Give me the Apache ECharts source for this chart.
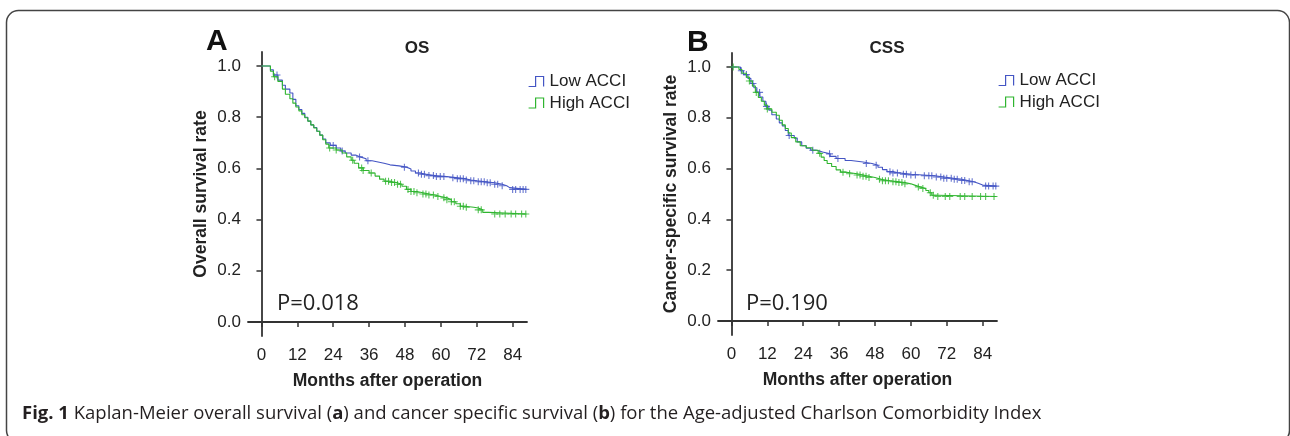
<!DOCTYPE html>
<html>
<head>
<meta charset="utf-8">
<script src="https://cdn.jsdelivr.net/npm/echarts@6/dist/echarts.min.js"></script>
<style>
  html, body { margin: 0; padding: 0; background: #fff; }
  #chart { width: 1290px; height: 436px; }
</style>
</head>
<body>
<div id="chart"></div>
<script>
// axis ticks
var monthTicks = [0, 12, 24, 36, 48, 60, 72, 84];
var rateTicks = [0, 0.2, 0.4, 0.6, 0.8, 1.0];

// Kaplan-Meier steps: [month, survival after the drop]
var osLow = [[0,1.0],[3,0.985],[4,0.965],[5.5,0.945],[7,0.925],[8,0.91],[9.5,0.895],[10.5,0.87],[11.5,0.845],
  [12.5,0.83],[13.5,0.815],[14.5,0.8],[15.5,0.785],[16.5,0.77],[17.5,0.76],[18.5,0.745],[19.5,0.73],[20.5,0.715],
  [21.5,0.7],[23,0.69],[25,0.68],[26.5,0.668],[28,0.66],[30,0.652],[31.5,0.645],[33,0.638],[35,0.63],[37,0.625],
  [39,0.62],[41,0.614],[43,0.61],[46,0.605],[48.5,0.598],[50,0.59],[51.5,0.582],[53,0.577],[55,0.572],[58,0.568],
  [62,0.564],[65,0.56],[68,0.555],[70,0.552],[72,0.548],[75,0.544],[78,0.538],[80.5,0.532],[82,0.525],[83,0.518],[88.6,0.518]];
var osHigh = [[0,1.0],[3,0.98],[4,0.958],[5.5,0.94],[7,0.91],[8,0.89],[9.5,0.872],[10.5,0.855],[11.5,0.84],
  [12.5,0.825],[13.5,0.81],[14.5,0.798],[15.5,0.785],[16.5,0.77],[17.5,0.758],[18.5,0.745],[19.5,0.73],[20.5,0.712],
  [21.5,0.695],[22.5,0.68],[25,0.672],[27,0.66],[28.5,0.645],[30,0.632],[31,0.62],[32.5,0.602],[34,0.592],[36,0.582],
  [38,0.57],[39.5,0.558],[41,0.55],[43,0.545],[45,0.538],[47,0.53],[48.5,0.518],[50,0.51],[52,0.505],[54,0.5],
  [56,0.496],[58,0.49],[60,0.485],[62,0.478],[63.5,0.47],[65,0.462],[66.5,0.452],[68,0.448],[71,0.445],[72.5,0.438],
  [74,0.428],[76,0.422],[88.6,0.422]];
var cssLow = [[0,1.0],[3,0.985],[4,0.97],[5.5,0.955],[6.5,0.935],[7.5,0.918],[8.5,0.9],[9.5,0.882],[10.5,0.865],
  [11.5,0.845],[12.5,0.83],[13.5,0.812],[15,0.795],[16,0.78],[17,0.768],[18,0.75],[19,0.73],[21,0.72],[22,0.705],
  [23.5,0.69],[25,0.68],[26.5,0.672],[28.5,0.665],[30.5,0.658],[33,0.648],[35,0.64],[38,0.632],[40,0.626],[44,0.62],
  [47,0.613],[49,0.605],[50.5,0.596],[52,0.588],[54,0.583],[56,0.578],[60,0.575],[64,0.572],[68,0.567],[71,0.562],
  [74,0.558],[77,0.553],[79,0.548],[81,0.542],[82.5,0.535],[84,0.531],[88.6,0.531]];
var cssHigh = [[0,1.0],[2.5,0.99],[3.5,0.975],[5,0.96],[6,0.945],[7,0.925],[8,0.9],[9,0.88],[10,0.865],[11,0.85],
  [12,0.835],[13.5,0.822],[15,0.81],[16,0.79],[17,0.772],[18,0.758],[19,0.74],[20,0.722],[21.5,0.705],[23,0.69],
  [25,0.682],[27,0.672],[29,0.66],[30,0.645],[31,0.632],[32,0.62],[33.5,0.608],[35,0.595],[36.5,0.586],[38,0.58],
  [42,0.575],[44,0.57],[46,0.565],[48,0.558],[50,0.552],[53,0.548],[56,0.545],[58,0.54],[60,0.534],[61.5,0.528],
  [63,0.522],[65,0.514],[66,0.505],[67,0.495],[69,0.49],[88.6,0.49]];

// censored observations (months)
var osLowCensor = [5.2, 24, 27, 32.8, 35.6, 47.8, 52.5, 53.5, 54.5, 56, 57.5, 58.5, 59.8, 61, 64, 65.5, 66.5, 67.5, 68.5,
  70, 71, 72.5, 73.5, 74.5, 75.5, 76.5, 78, 79, 80.5, 84, 85, 86.5, 87.5, 88.4];
var osHighCensor = [4.4, 22.8, 25, 30.5, 33.5, 34, 36.7, 41.5, 42.5, 43.5, 44.5, 45.5, 46.5, 49, 50, 51, 52, 54, 55, 56,
  57.5, 59, 61, 62, 63.5, 64.5, 66.5, 67.5, 68.5, 72.5, 73.5, 78, 79.7, 81.5, 83.5, 85, 87, 88.4];
var cssLowCensor = [3.3, 5, 7.2, 9.4, 11.7, 19.3, 27.2, 32.8, 35.6, 45.1, 48.4, 53, 54, 55.5, 57.5, 58.5, 60, 61.5, 64.5,
  66, 67, 68.5, 70, 71, 72, 73.5, 74.5, 75.5, 77, 78, 79.5, 80.5, 85, 86, 87.5, 88.4];
var cssHighCensor = [0.6, 6, 8.3, 12, 29.5, 37.3, 39.5, 42, 43, 44, 45, 46, 49.5, 50.5, 51.5, 52.5, 54, 55, 56, 57, 58,
  62.5, 64, 66.5, 67.5, 69, 71.5, 73, 76.5, 78, 80.5, 83.3, 85, 87.8];

var groupNames = ['Low ACCI', 'High ACCI'];
var lowColor = '#4455c4';
var highColor = '#2fb52f';

function survAt(curve, t) {
  var s = curve[0][1];
  for (var i = 0; i < curve.length; i++) {
    if (curve[i][0] <= t) s = curve[i][1]; else break;
  }
  return s;
}
function marks(curve, times) {
  return times.map(function (t) { return [t, survAt(curve, t)]; });
}

var plusIcon = 'path://M0,5L10,5M5,0L5,10';
var stepIcon = 'path://M0,10L7,10L7,0L15,0L15,10';
var font = "'Liberation Sans', Arial, sans-serif";

function kmLine(name, data, color, idx) {
  return {
    name: name, type: 'line', step: 'end', data: data, showSymbol: false,
    xAxisIndex: idx, yAxisIndex: idx, color: color,
    lineStyle: { width: 1.1, color: color }, animation: false
  };
}
function censorMarks(name, data, color, idx) {
  return {
    name: name, type: 'scatter', data: data, symbol: plusIcon, symbolSize: 7,
    xAxisIndex: idx, yAxisIndex: idx, silent: true,
    itemStyle: { color: 'transparent', borderColor: color, borderWidth: 1.1 }, animation: false
  };
}
function xAx(idx) {
  return {
    type: 'value', gridIndex: idx, min: -4.5, max: 88.8,
    name: 'Months after operation', nameLocation: 'middle', nameGap: 36,
    nameTextStyle: { fontFamily: font, fontWeight: 'bold', fontSize: 17.5, color: '#222' },
    axisLine: { lineStyle: { color: '#333', width: 1.8 } },
    axisTick: { customValues: monthTicks, length: 5, lineStyle: { color: '#333', width: 1.5 } },
    axisLabel: { customValues: monthTicks, margin: 11, fontFamily: font, fontSize: 17, color: '#222' },
    splitLine: { show: false }
  };
}
function yAx(idx, title) {
  return {
    type: 'value', gridIndex: idx, min: -0.055, max: 1.055,
    name: title, nameLocation: 'middle', nameGap: 38, nameRotate: 90,
    nameTextStyle: { fontFamily: font, fontWeight: 'bold', fontSize: 17.5, color: '#222' },
    axisLine: { show: true, lineStyle: { color: '#333', width: 1.8 } },
    axisTick: { show: true, customValues: rateTicks, length: 5, lineStyle: { color: '#333', width: 1.5 } },
    axisLabel: { customValues: rateTicks, margin: 7, fontFamily: font, fontSize: 17, color: '#222',
      formatter: function (v) { return v.toFixed(1); } },
    splitLine: { show: false }
  };
}
function legendAt(left, top) {
  return {
    data: [
      { name: groupNames[0], itemStyle: { color: 'transparent', borderColor: lowColor, borderWidth: 1.2 } },
      { name: groupNames[1], itemStyle: { color: 'transparent', borderColor: highColor, borderWidth: 1.2 } }
    ],
    orient: 'vertical', left: left, top: top, padding: 0,
    icon: stepIcon, itemWidth: 17, itemHeight: 10, itemGap: 4.5,
    selectedMode: false,
    textStyle: { fontFamily: font, fontSize: 17, color: '#222' }
  };
}

var chart = echarts.init(document.getElementById('chart'), null, { renderer: 'canvas' });
var option = {
  backgroundColor: '#fff',
  animation: false,
  title: [
    { text: 'A', left: 201, top: 22, textStyle: { fontFamily: font, fontWeight: 'bold', fontSize: 30, color: '#111' } },
    { text: 'OS', left: 412, top: 35, textAlign: 'center', textStyle: { fontFamily: font, fontWeight: 'bold', fontSize: 17, color: '#222' } },
    { text: 'P=0.018', left: 272, top: 288, textStyle: { fontFamily: 'Open Sans', fontWeight: 'normal', fontSize: 22, color: '#222' } },
    { text: 'B', left: 682, top: 23, textStyle: { fontFamily: font, fontWeight: 'bold', fontSize: 30, color: '#111' } },
    { text: 'CSS', left: 882, top: 35, textAlign: 'center', textStyle: { fontFamily: font, fontWeight: 'bold', fontSize: 17, color: '#222' } },
    { text: 'P=0.190', left: 741, top: 288, textStyle: { fontFamily: 'Open Sans', fontWeight: 'normal', fontSize: 22, color: '#222' } },
    {
      text: '{b|Fig. 1} Kaplan-Meier overall survival ({b|a}) and cancer specific survival ({b|b}) for the Age-adjusted Charlson Comorbidity Index',
      left: 17, top: 399,
      textStyle: {
        fontFamily: 'Open Sans', fontWeight: 'normal', fontSize: 18.5, color: '#231f20',
        rich: { b: { fontFamily: 'Open Sans', fontWeight: 'bold', fontSize: 18.5, color: '#231f20' } }
      }
    }
  ],
  legend: [legendAt(528, 73), legendAt(998, 72)],
  grid: [
    { left: 248, top: 52, width: 279, height: 284 },
    { left: 718, top: 53, width: 279, height: 282 }
  ],
  xAxis: [xAx(0), xAx(1)],
  yAxis: [yAx(0, 'Overall survival rate'), yAx(1, 'Cancer-specific survival rate')],
  series: [
    kmLine(groupNames[0], osLow, lowColor, 0),
    kmLine(groupNames[1], osHigh, highColor, 0),
    censorMarks(groupNames[0], marks(osLow, osLowCensor), lowColor, 0),
    censorMarks(groupNames[1], marks(osHigh, osHighCensor), highColor, 0),
    kmLine(groupNames[0], cssLow, lowColor, 1),
    kmLine(groupNames[1], cssHigh, highColor, 1),
    censorMarks(groupNames[0], marks(cssLow, cssLowCensor), lowColor, 1),
    censorMarks(groupNames[1], marks(cssHigh, cssHighCensor), highColor, 1)
  ],
  graphic: [
    { type: 'rect', left: 4, top: 8, silent: true,
      shape: { width: 1283, height: 432, r: 12 },
      style: { fill: 'none', stroke: '#444', lineWidth: 1.5 } }
  ]
};
chart.setOption(option);
</script>
</body>
</html>
